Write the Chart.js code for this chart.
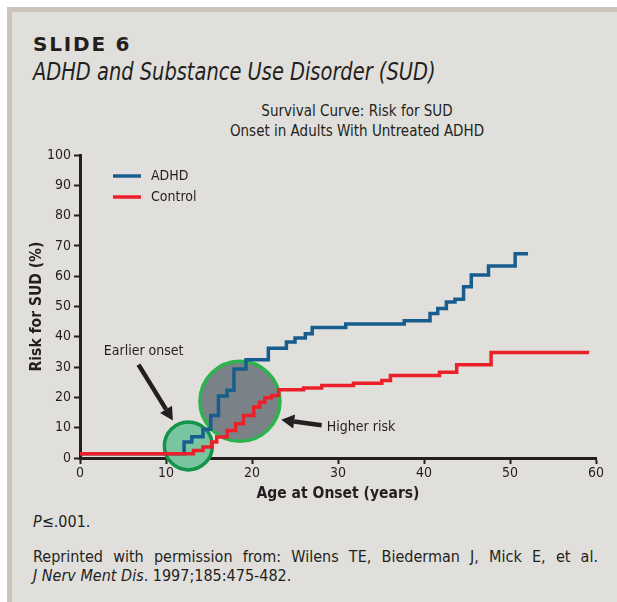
<!DOCTYPE html>
<html>
<head>
<meta charset="utf-8">
<script src="https://cdn.jsdelivr.net/npm/chart.js@4.4.1/dist/chart.umd.min.js"></script>
<style>
  html, body { margin: 0; padding: 0; background: #fff; }
  #card {
    position: absolute; left: 7px; top: 7px; width: 610px; height: 595px;
    background: #e1dfdb; border-left: 5px solid #cbc4ba; border-top: 5px solid #cbc4ba;
    box-sizing: border-box;
  }
  .txt { position: absolute; color: #231f20; font-family: "DejaVu Sans Condensed", "Liberation Sans", sans-serif; white-space: nowrap; }
  #slide { left: 33px; top: 34px; font-family: "DejaVu Sans", sans-serif; font-weight: 900; font-size: 20px; letter-spacing: 1.8px; line-height: 1; }
  #subtitle { left: 33px; top: 58px; font-style: italic; font-size: 24px; line-height: 1.2; transform: scaleX(0.9); transform-origin: left top; }
  #ctitle { left: 200px; width: 314px; top: 101px; text-align: center; font-size: 15px; line-height: 20px; }
  #pval { left: 33px; top: 512px; font-size: 16px; line-height: 20px; }
  #cite { left: 33px; top: 547px; width: 565px; font-size: 16px; line-height: 19px; white-space: normal; }
  #cite .l1 { text-align: justify; text-align-last: justify; }
  #wrap { position: absolute; left: 0; top: 0; width: 617px; height: 602px; }
</style>
</head>
<body>
<div id="card"></div>
<div class="txt" id="slide">SLIDE 6</div>
<div class="txt" id="subtitle">ADHD and Substance Use Disorder (SUD)</div>
<div class="txt" id="ctitle">Survival Curve: Risk for SUD<br>Onset in Adults With Untreated ADHD</div>
<div class="txt" id="pval"><i>P</i>≤.001.</div>
<div class="txt" id="cite"><div class="l1">Reprinted with permission from: Wilens TE, Biederman J, Mick E, et al.</div><i>J Nerv Ment Dis</i>. 1997;185:475-482.</div>
<div id="wrap"><canvas id="chart" width="617" height="602"></canvas></div>
<script>
// ------------------- Data -------------------//
var adhdAge = [0, 12.1, 13.0, 14.3, 15.2, 16.1, 17.1, 17.9, 19.3, 21.9, 24.0, 25.0, 26.2, 27.0, 30.9, 37.7, 40.7, 41.6, 42.6, 43.6, 44.6, 45.5, 47.5, 50.6, 52.1];
var adhdRisk = [1.4, 5.3, 7.0, 9.5, 14.0, 20.5, 22.4, 29.4, 32.4, 36.2, 38.3, 39.6, 41.0, 43.1, 44.2, 45.3, 47.7, 49.3, 51.5, 52.4, 56.5, 60.4, 63.4, 67.4, 67.4];

var controlAge = [0, 13.2, 14.3, 15.3, 15.9, 17.1, 18.1, 19.0, 20.2, 20.9, 21.5, 22.3, 23.1, 26.0, 28.1, 31.8, 35.1, 36.1, 41.8, 43.8, 47.8, 59.2];
var controlRisk = [1.4, 2.5, 3.6, 5.3, 6.9, 9.1, 11.3, 14.0, 16.8, 18.4, 19.9, 20.6, 22.5, 23.1, 23.9, 24.7, 25.6, 27.2, 28.3, 30.8, 34.8, 34.8];

var xTicks = [0, 10, 20, 30, 40, 50, 60];
var yTicks = [0, 10, 20, 30, 40, 50, 60, 70, 80, 90, 100];

// highlight circles: centre (age, risk)
var earlyCircle = { x: 12.6, y: 4.0 };
var riskCircle = { x: 18.6, y: 18.7 };

// callouts: label, text anchor, arrow tail, arrow tip (data units)
var callouts = [
  { label: 'Earlier onset', at: [7.4, 35.2], align: 'center', from: [6.8, 30.8], to: [10.8, 12.4] },
  { label: 'Higher risk', at: [28.7, 10.2], align: 'left', from: [28.1, 10.8], to: [23.4, 12.6] }
];

var FONT = '"DejaVu Sans Condensed", "Liberation Sans", sans-serif';
var INK = '#231f20';

function points(xs, ys) {
  return xs.map(function(x, i) { return { x: x, y: ys[i] }; });
}

// ------------------- Plugins -------------------//
var legendInArea = {
  id: 'legendInArea',
  afterDatasetsDraw: function(chart) {
    var ctx = chart.ctx, a = chart.chartArea;
    ctx.save();
    ctx.font = '14px ' + FONT;
    ctx.textBaseline = 'middle';
    chart.data.datasets.filter(function(d) { return d.type === 'line'; })
      .sort(function(p, q) { return p.legendRank - q.legendRank; })
      .forEach(function(d, i) {
        var y = a.top + 21 + i * 21;
        ctx.strokeStyle = d.borderColor;
        ctx.lineWidth = 3.5;
        ctx.beginPath();
        ctx.moveTo(a.left + 33, y);
        ctx.lineTo(a.left + 61, y);
        ctx.stroke();
        ctx.fillStyle = INK;
        ctx.fillText(d.label, a.left + 71, y);
      });
    ctx.restore();
  }
};

var calloutPlugin = {
  id: 'callouts',
  afterDatasetsDraw: function(chart) {
    var ctx = chart.ctx, xs = chart.scales.x, ys = chart.scales.y;
    ctx.save();
    callouts.forEach(function(c) {
      var x0 = xs.getPixelForValue(c.from[0]), y0 = ys.getPixelForValue(c.from[1]);
      var x1 = xs.getPixelForValue(c.to[0]), y1 = ys.getPixelForValue(c.to[1]);
      var ang = Math.atan2(y1 - y0, x1 - x0), head = 13, hw = 7;
      var bx = x1 - head * Math.cos(ang), by = y1 - head * Math.sin(ang);
      ctx.strokeStyle = INK;
      ctx.fillStyle = INK;
      ctx.lineWidth = 4.5;
      ctx.beginPath();
      ctx.moveTo(x0, y0);
      ctx.lineTo(bx, by);
      ctx.stroke();
      ctx.beginPath();
      ctx.moveTo(x1, y1);
      ctx.lineTo(bx + hw * Math.sin(ang), by - hw * Math.cos(ang));
      ctx.lineTo(bx - hw * Math.sin(ang), by + hw * Math.cos(ang));
      ctx.closePath();
      ctx.fill();

      ctx.font = '14px ' + FONT;
      ctx.textAlign = c.align;
      ctx.textBaseline = 'middle';
      ctx.fillText(c.label, xs.getPixelForValue(c.at[0]), ys.getPixelForValue(c.at[1]));
    });
    ctx.restore();
  }
};

// ------------------- Chart -------------------//
var ctx = document.getElementById('chart');
var myChart = new Chart(ctx, {
  data: {
    datasets: [{
      type: 'line',
      label: 'Control',
      legendRank: 1,
      data: points(controlAge, controlRisk),
      borderColor: '#ec2028',
      borderWidth: 3.5,
      stepped: 'before',
      pointRadius: 0,
      fill: false,
      order: 0
    }, {
      type: 'line',
      label: 'ADHD',
      legendRank: 0,
      data: points(adhdAge, adhdRisk),
      borderColor: '#175e8f',
      borderWidth: 3.5,
      stepped: 'before',
      pointRadius: 0,
      fill: false,
      order: 1
    }, {
      type: 'bubble',
      label: 'circles',
      data: [
        { x: earlyCircle.x, y: earlyCircle.y, r: 24 },
        { x: riskCircle.x, y: riskCircle.y, r: 40 }
      ],
      backgroundColor: ['#79c5a0', '#7a8287'],
      borderColor: ['#14934a', '#2bb34c'],
      borderWidth: 3.5,
      clip: false,
      order: 2
    }]
  },
  options: {
    responsive: false,
    animation: false,
    events: [],
    layout: { autoPadding: false, padding: { left: 0, right: 21, top: 155, bottom: 94 } },
    plugins: {
      legend: { display: false },
      tooltip: { enabled: false },
      title: { display: false }
    },
    scales: {
      x: {
        type: 'linear',
        min: 0,
        max: 60,
        z: 1,
        afterFit: function(s) { s.height = 50; },
        afterBuildTicks: function(s) { s.ticks = xTicks.map(function(v) { return { value: v }; }); },
        border: { display: true, color: INK, width: 3 },
        grid: { display: true, drawOnChartArea: false, drawTicks: true, tickLength: 6, tickWidth: 2, color: INK },
        ticks: { color: INK, font: { family: FONT, size: 14 }, padding: 1 },
        title: { display: true, text: 'Age at Onset (years)', color: INK, font: { family: FONT, size: 15.5, weight: 'bold' }, padding: { top: 0, bottom: 5 } }
      },
      y: {
        type: 'linear',
        min: 0,
        max: 100,
        z: 1,
        afterFit: function(s) { s.width = 80; },
        afterBuildTicks: function(s) { s.ticks = yTicks.map(function(v) { return { value: v }; }); },
        border: { display: true, color: INK, width: 3 },
        grid: { display: true, drawOnChartArea: false, drawTicks: true, tickLength: 6, tickWidth: 2, color: INK },
        ticks: { color: INK, font: { family: FONT, size: 14 }, padding: 3 },
        title: { display: true, text: 'Risk for SUD (%)', color: INK, font: { family: FONT, size: 15.5, weight: 'bold' }, padding: { top: 28, bottom: 0 } }
      }
    }
  },
  plugins: [legendInArea, calloutPlugin]
});
</script>
</body>
</html>
